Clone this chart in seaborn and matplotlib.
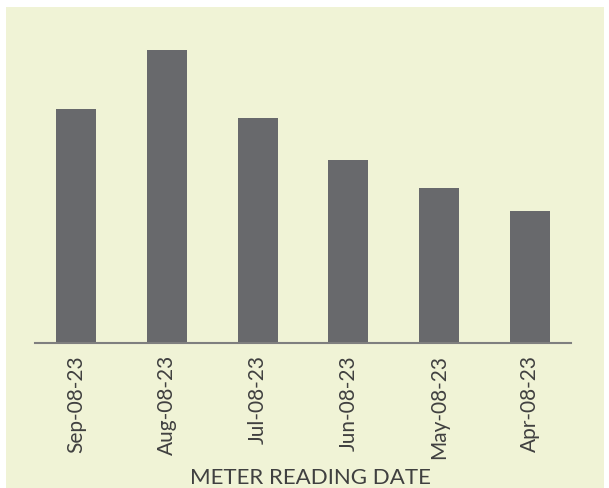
import matplotlib.pyplot as plt
import seaborn as sns
from matplotlib.patches import Rectangle

# Data (relative heights, no y axis shown)
dates = ['Sep-08-23', 'Aug-08-23', 'Jul-08-23', 'Jun-08-23', 'May-08-23', 'Apr-08-23']
readings = [234, 293, 225, 183, 155, 132]

bg = '#f0f3d6'
bar_color = '#68696c'
text_color = '#404040'

sns.set_style('white')
plt.rcParams['font.family'] = ['Lato', 'DejaVu Sans']

fig = plt.figure(figsize=(6.09, 4.89), dpi=100)
fig.patch.set_facecolor('white')
fig.patches.append(Rectangle((6 / 609, 0), 598 / 609, 481 / 489,
                             transform=fig.transFigure, facecolor=bg,
                             edgecolor='none', zorder=-1))

ax = fig.add_axes([35 / 609, 145 / 489, 536 / 609, 300 / 489])
ax.set_facecolor('none')

sns.barplot(x=dates, y=readings, color=bar_color, saturation=1, width=0.44,
            linewidth=0, ax=ax)

ax.set_xlim(-0.45, 5.45)
ax.set_ylim(0, 300)
ax.set_yticks([])
for side in ['top', 'right', 'left']:
    ax.spines[side].set_visible(False)
ax.spines['bottom'].set_color('#7f7f7f')
ax.spines['bottom'].set_linewidth(1.5)

ax.tick_params(axis='x', length=0, pad=8, labelsize=15, labelcolor=text_color)
plt.setp(ax.get_xticklabels(), rotation=90)
ax.set_xlabel('METER READING DATE', fontsize=16, color=text_color, va='bottom')
ax.xaxis.set_label_coords(310 / 609, 1 / 489, transform=fig.transFigure)

fig.savefig('out.png', dpi=100)
